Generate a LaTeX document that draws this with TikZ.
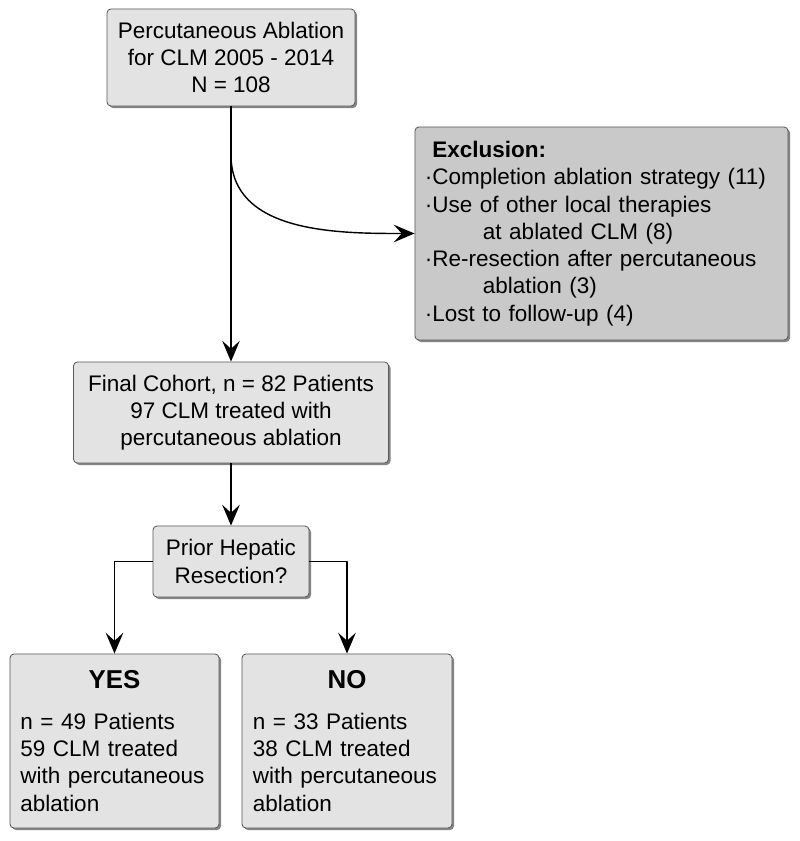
\documentclass[tikz,border=0pt]{standalone}
\usepackage{fontspec}
\setmainfont{Liberation Sans}
\usetikzlibrary{arrows.meta,shadows}
\definecolor{boxfill}{HTML}{E3E3E3}
\definecolor{exclfill}{HTML}{C9C9C9}
\definecolor{boxline}{HTML}{5A5A5A}
\newcommand\exitem[1]{\textperiodcentered#1}
\newcommand\exindent{\hspace*{1.45cm}}
\newcommand\grouptitle[1]{\makebox[\hsize]{\bfseries\fontsize{18.4}{22}\selectfont #1}}

\begin{document}
\begin{tikzpicture}[x=0.025cm, y=-0.025cm, line join=round,
  every node/.style={font=\fontsize{16}{19.4}\selectfont},
  stagebox/.style={draw=boxline, fill=boxfill, line width=0.6pt, rounded corners=0.1cm,
    drop shadow={shadow xshift=0.05cm, shadow yshift=-0.05cm, fill=black!60, opacity=0.8},
    align=center, inner sep=0pt},
  flow/.style={-{Stealth[length=0.52cm, width=0.44cm, inset=0.2cm]}, line width=1pt}
]
\useasboundingbox (0,0) rectangle (800,841);

% boxes
\node[stagebox, minimum width=6.2cm, minimum height=2.425cm] (source) at (231,57.5)
  {Percutaneous Ablation\\for CLM 2005 - 2014\\N = 108};
\node[stagebox, fill=exclfill, minimum width=9.325cm, minimum height=5.325cm,
  text width=8.825cm, align=left] (excl) at (601.5,233.5)
  {\phantom{\textperiodcentered}\textbf{Exclusion:}\\
   \exitem{Completion ablation strategy (11)}\\
   \exitem{Use of other local therapies}\\
   \exindent at ablated CLM (8)\\
   \exitem{Re-resection after percutaneous}\\
   \exindent ablation (3)\\
   \exitem{Lost to follow-up (4)}};
\node[stagebox, minimum width=7.875cm, minimum height=2.525cm] (cohort) at (231,412.5)
  {Final Cohort, n = 82 Patients\\97 CLM treated with\\percutaneous ablation};
\node[stagebox, minimum width=3.9cm, minimum height=1.775cm] (prior) at (231,561.5)
  {Prior Hepatic\\Resection?};
\node[stagebox, minimum width=5.225cm, minimum height=4.35cm, text width=4.7cm, align=left]
  (yes) at (114.5,741)
  {\grouptitle{YES}\\[9.6pt]n = 49 Patients\\59 CLM treated\\with percutaneous\\ablation};
\node[stagebox, minimum width=5.25cm, minimum height=4.35cm, text width=4.7cm, align=left]
  (no) at (347,741)
  {\grouptitle{NO}\\[9.6pt]n = 33 Patients\\38 CLM treated\\with percutaneous\\ablation};

% connectors
\coordinate (split) at (231,155);
\draw[flow] (source.south) -- (cohort.north);
\draw[flow] (split) .. controls (231,233) and (337,233.5) .. (excl.west);
\draw[flow] (cohort.south) -- (prior.north);
\draw[flow] (prior.west) -| (yes.north);
\draw[flow] (prior.east) -| (no.north);
\end{tikzpicture}
\end{document}
